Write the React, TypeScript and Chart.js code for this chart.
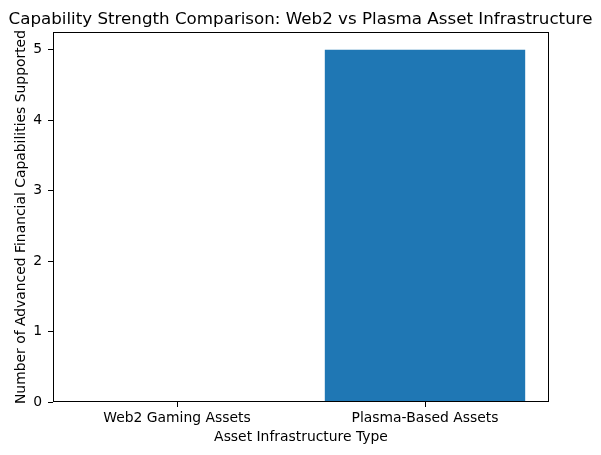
import React, { useEffect, useRef } from "react";
import { Chart, registerables } from "chart.js";

Chart.register(...registerables);

const categories = ["Web2 Gaming Assets", "Plasma-Based Assets"];
const capabilityCounts = [0, 5];
const yTickValues = [0, 1, 2, 3, 4, 5];
const chartTitle = "Capability Strength Comparison: Web2 vs Plasma Asset Infrastructure";
const xAxisTitle = "Asset Infrastructure Type";
const yAxisTitle = "Number of Advanced Financial Capabilities Supported";

const FONT = "'DejaVu Sans', 'Liberation Sans', sans-serif";

const framePlugin = {
  id: "frame",
  afterDraw(chart: any) {
    const { ctx, chartArea } = chart;
    ctx.save();
    ctx.strokeStyle = "#000";
    ctx.lineWidth = 1;
    const l = Math.round(chartArea.left) + 0.5;
    const t = Math.round(chartArea.top) + 0.5;
    const r = Math.round(chartArea.right) - 0.5;
    const b = Math.round(chartArea.bottom) - 0.5;
    ctx.strokeRect(l, t, r - l, b - t);
    ctx.restore();
  },
};

export default function App() {
  const ref = useRef<HTMLCanvasElement>(null);
  useEffect(() => {
    if (!ref.current) return;
    const chart = new Chart(ref.current, {
      type: "bar",
      data: {
        labels: categories,
        datasets: [
          {
            data: capabilityCounts,
            backgroundColor: "#1f77b4",
            barPercentage: 0.808,
            categoryPercentage: 1,
            yAxisID: "y",
          },
        ],
      },
      options: {
        animation: false,
        responsive: false,
        maintainAspectRatio: false,
        layout: { padding: { left: 0, right: 0, top: 0, bottom: 0 } },
        plugins: {
          legend: { display: false },
          tooltip: { enabled: false },
          title: {
            display: true,
            text: chartTitle,
            color: "#000",
            font: { family: FONT, size: 16.7, weight: "normal", lineHeight: 1.2 },
            padding: { top: 9.2, bottom: 2.8 },
          },
        },
        scales: {
          x: {
            type: "category",
            offset: true,
            border: { display: false },
            grid: {
              display: true,
              drawOnChartArea: false,
              drawTicks: true,
              tickLength: 5,
              color: "#000",
              offset: false,
            },
            ticks: {
              color: "#000",
              padding: 3,
              font: { family: FONT, size: 13.9, lineHeight: 1.2 },
              maxRotation: 0,
            },
            title: {
              display: true,
              text: xAxisTitle,
              color: "#000",
              font: { family: FONT, size: 13.9, lineHeight: 1.2 },
              padding: { top: 9, bottom: 9 },
            },
            afterFit(scale: any) {
              scale.height = 53;
            },
          },
          y: {
            type: "linear",
            position: "left",
            min: 0,
            max: 5.25,
            border: { display: false },
            grid: {
              display: true,
              drawOnChartArea: false,
              drawTicks: true,
              tickLength: 5,
              color: "#000",
            },
            ticks: {
              color: "#000",
              padding: 6,
              font: { family: FONT, size: 13.9, lineHeight: 1.2 },
            },
            afterBuildTicks(scale: any) {
              scale.ticks = yTickValues.map((v) => ({ value: v }));
            },
            title: {
              display: true,
              text: yAxisTitle,
              color: "#000",
              font: { family: FONT, size: 13.9, lineHeight: 1.2 },
              padding: { top: 13, bottom: 13 },
            },
            afterFit(scale: any) {
              scale.width = 53;
            },
          },
          yRightSpacer: {
            type: "linear",
            position: "right",
            min: 0,
            max: 5.25,
            border: { display: false },
            grid: { display: false, drawTicks: false },
            ticks: { display: false },
            afterFit(scale: any) {
              scale.width = 52;
            },
          },
        },
      },
      plugins: [framePlugin],
    });
    return () => chart.destroy();
  }, []);

  return (
    <div style={{ position: "fixed", left: 0, top: 0, width: 601, height: 455, background: "#fff" }}>
      <canvas ref={ref} width={601} height={455} style={{ width: 601, height: 455 }} />
    </div>
  );
}
